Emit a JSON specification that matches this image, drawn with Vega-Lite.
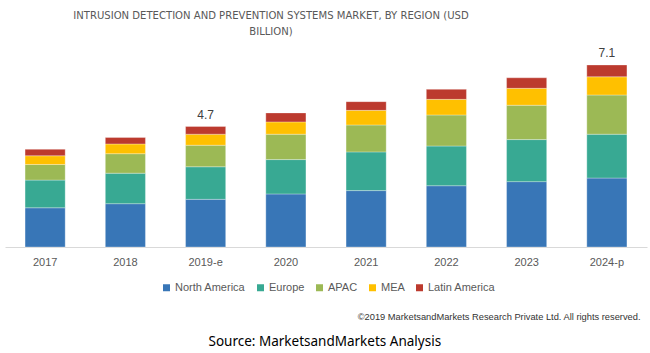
{
  "$schema": "https://vega.github.io/schema/vega-lite/v6.json",
  "width": 642,
  "height": 202,
  "autosize": "none",
  "padding": {"left": 5, "top": 45, "right": 3, "bottom": 106},
  "background": "#ffffff",
  "config": {"view": {"stroke": null}, "font": "Liberation Sans"},
  "title": {
    "text": ["INTRUSION DETECTION AND PREVENTION SYSTEMS MARKET, BY REGION (USD", "BILLION)"],
    "anchor": "middle",
    "dx": -55,
    "offset": 8,
    "font": "DejaVu Sans Condensed",
    "fontSize": 11.2,
    "fontWeight": "normal",
    "color": "#595959",
    "lineHeight": 16
  },
  "data": {
    "values": [
      {"year": "2017", "region": "North America", "value": 1.53},
      {"year": "2017", "region": "Europe", "value": 1.08},
      {"year": "2017", "region": "APAC", "value": 0.61},
      {"year": "2017", "region": "MEA", "value": 0.34},
      {"year": "2017", "region": "Latin America", "value": 0.25},
      {"year": "2018", "region": "North America", "value": 1.69},
      {"year": "2018", "region": "Europe", "value": 1.19},
      {"year": "2018", "region": "APAC", "value": 0.76},
      {"year": "2018", "region": "MEA", "value": 0.38},
      {"year": "2018", "region": "Latin America", "value": 0.25},
      {"year": "2019-e", "region": "North America", "value": 1.86},
      {"year": "2019-e", "region": "Europe", "value": 1.27},
      {"year": "2019-e", "region": "APAC", "value": 0.84},
      {"year": "2019-e", "region": "MEA", "value": 0.43},
      {"year": "2019-e", "region": "Latin America", "value": 0.30},
      {"year": "2020", "region": "North America", "value": 2.07},
      {"year": "2020", "region": "Europe", "value": 1.34},
      {"year": "2020", "region": "APAC", "value": 0.99},
      {"year": "2020", "region": "MEA", "value": 0.48},
      {"year": "2020", "region": "Latin America", "value": 0.35},
      {"year": "2021", "region": "North America", "value": 2.20},
      {"year": "2021", "region": "Europe", "value": 1.51},
      {"year": "2021", "region": "APAC", "value": 1.05},
      {"year": "2021", "region": "MEA", "value": 0.57},
      {"year": "2021", "region": "Latin America", "value": 0.34},
      {"year": "2022", "region": "North America", "value": 2.39},
      {"year": "2022", "region": "Europe", "value": 1.55},
      {"year": "2022", "region": "APAC", "value": 1.21},
      {"year": "2022", "region": "MEA", "value": 0.61},
      {"year": "2022", "region": "Latin America", "value": 0.39},
      {"year": "2023", "region": "North America", "value": 2.55},
      {"year": "2023", "region": "Europe", "value": 1.64},
      {"year": "2023", "region": "APAC", "value": 1.34},
      {"year": "2023", "region": "MEA", "value": 0.66},
      {"year": "2023", "region": "Latin America", "value": 0.41},
      {"year": "2024-p", "region": "North America", "value": 2.69},
      {"year": "2024-p", "region": "Europe", "value": 1.71},
      {"year": "2024-p", "region": "APAC", "value": 1.53},
      {"year": "2024-p", "region": "MEA", "value": 0.71},
      {"year": "2024-p", "region": "Latin America", "value": 0.46}
    ]
  },
  "encoding": {
    "x": {
      "field": "year",
      "type": "nominal",
      "sort": null,
      "scale": {"paddingInner": 0.5, "paddingOuter": 0.25},
      "axis": {
        "title": "©2019 MarketsandMarkets Research Private Ltd. All rights reserved.",
        "titleX": 635,
        "titleY": 69,
        "titleAlign": "right",
        "titleBaseline": "middle",
        "titleFont": "Liberation Sans",
        "titleFontSize": 9.3,
        "titleFontWeight": "normal",
        "titleColor": "#333333",
        "labelAngle": 0,
        "labelFont": "Liberation Sans",
        "labelFontSize": 11,
        "labelColor": "#595959",
        "labelPadding": 9,
        "ticks": false,
        "domainColor": "#d9d9d9",
        "domainWidth": 1
      }
    }
  },
  "layer": [
    {
      "transform": [
        {"calculate": "indexof(['North America','Europe','APAC','MEA','Latin America'], datum.region)", "as": "stackOrder"}
      ],
      "mark": {"type": "bar", "stroke": "#ffffff", "strokeWidth": 0.5, "strokeOpacity": 0.6},
      "encoding": {
        "y": {
          "field": "value",
          "type": "quantitative",
          "stack": "zero",
          "scale": {"domain": [0, 7.88], "nice": false},
          "axis": {
            "title": "Source: MarketsandMarkets Analysis",
            "titleAngle": 0,
            "titleX": 203,
            "titleY": 296,
            "titleAlign": "left",
            "titleBaseline": "middle",
            "titleFont": "Noto Sans",
            "titleFontSize": 13.5,
            "titleFontWeight": "normal",
            "titleColor": "#000000",
            "labels": false,
            "ticks": false,
            "domain": false,
            "grid": false
          }
        },
        "order": {"field": "stackOrder", "type": "quantitative", "sort": "ascending"},
        "color": {
          "field": "region",
          "type": "nominal",
          "sort": ["North America", "Europe", "APAC", "MEA", "Latin America"],
          "scale": {
            "domain": ["North America", "Europe", "APAC", "MEA", "Latin America"],
            "range": ["#3876b7", "#38a993", "#9cb955", "#ffc000", "#bc3a2e"]
          },
          "legend": {
            "title": null,
            "orient": "none",
            "direction": "horizontal",
            "legendX": 156,
            "legendY": 237,
            "symbolType": "square",
            "symbolSize": 49,
            "symbolStrokeWidth": 0,
            "labelFont": "Liberation Sans",
            "labelFontSize": 11,
            "labelColor": "#595959",
            "columnPadding": 9,
            "labelOffset": 3,
            "padding": 0
          }
        }
      }
    },
    {
      "transform": [
        {"aggregate": [{"op": "sum", "field": "value", "as": "total"}], "groupby": ["year"]},
        {"filter": "datum.year === '2019-e' || datum.year === '2024-p'"}
      ],
      "mark": {"type": "text", "baseline": "bottom", "dy": -5, "font": "Liberation Sans", "fontSize": 12, "color": "#404040"},
      "encoding": {
        "y": {"field": "total", "type": "quantitative"},
        "text": {"field": "total", "type": "quantitative", "format": ".1f"}
      }
    }
  ]
}
